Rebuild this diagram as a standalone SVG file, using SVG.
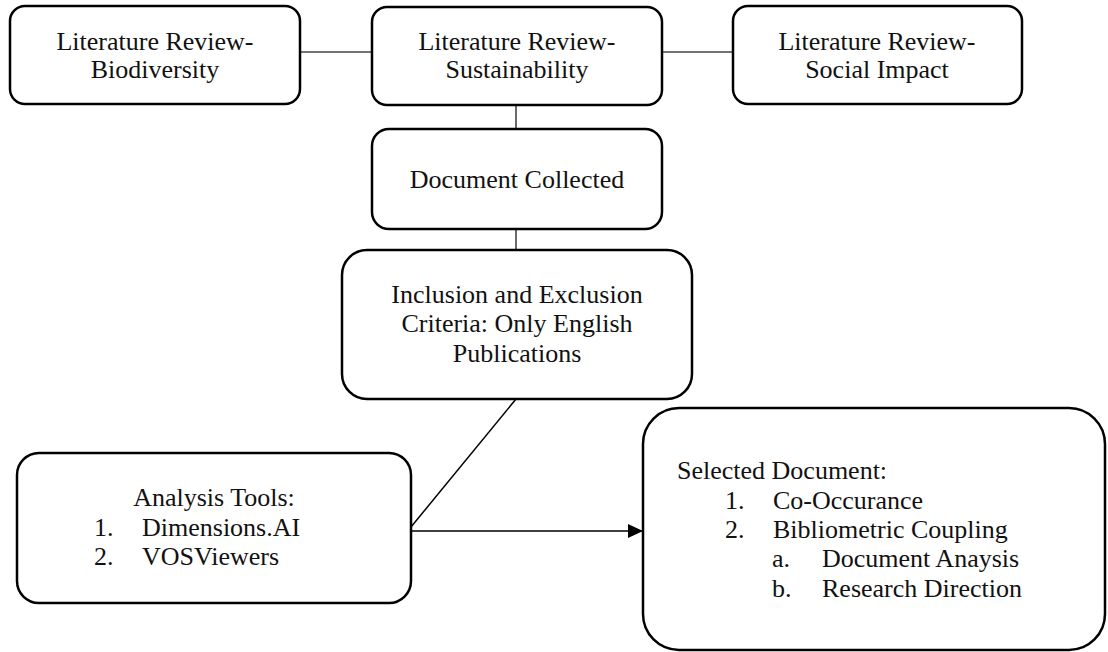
<svg xmlns="http://www.w3.org/2000/svg" width="1108" height="652" viewBox="0 0 1108 652">
  <style>
    .box { fill: #ffffff; stroke: #000000; stroke-width: 2.5; }
    .link { fill: none; stroke: #444444; stroke-width: 1.6; }
    .flow { fill: none; stroke: #000000; stroke-width: 1.5; }
    text { font-family: "Liberation Serif", "Times New Roman", serif; font-size: 26px; fill: #111111; }
    .c { text-anchor: middle; }
  </style>
  <defs>
    <marker id="arrow" viewBox="0 0 15 14" refX="15" refY="7" markerWidth="15" markerHeight="14" markerUnits="userSpaceOnUse" orient="auto">
      <path d="M0,0 L15,7 L0,14 Z" fill="#000000"/>
    </marker>
  </defs>

  <!-- connectors -->
  <g id="connectors">
    <line class="link" x1="300" y1="52" x2="372" y2="52"/>
    <line class="link" x1="662" y1="52" x2="733" y2="52"/>
    <line class="link" x1="516" y1="104" x2="516" y2="129"/>
    <line class="link" x1="516" y1="229" x2="516" y2="250"/>
    <line class="flow" x1="516" y1="399" x2="411" y2="527"/>
    <line class="flow" x1="411" y1="531" x2="643" y2="531" marker-end="url(#arrow)"/>
  </g>

  <g id="lit-biodiversity">
    <rect class="box" x="10" y="6" width="290" height="98" rx="15"/>
    <text class="c" x="155" y="50">Literature Review-</text>
    <text class="c" x="155" y="78">Biodiversity</text>
  </g>

  <g id="lit-sustainability">
    <rect class="box" x="372" y="7" width="290" height="98" rx="15"/>
    <text class="c" x="517" y="50">Literature Review-</text>
    <text class="c" x="517" y="78">Sustainability</text>
  </g>

  <g id="lit-social">
    <rect class="box" x="733" y="6" width="289" height="98" rx="15"/>
    <text class="c" x="877" y="50">Literature Review-</text>
    <text class="c" x="877" y="78">Social Impact</text>
  </g>

  <g id="document-collected">
    <rect class="box" x="372" y="129" width="290" height="100" rx="17"/>
    <text class="c" x="517" y="188">Document Collected</text>
  </g>

  <g id="criteria">
    <rect class="box" x="342" y="250" width="350" height="149" rx="25"/>
    <text class="c" x="517" y="303">Inclusion and Exclusion</text>
    <text class="c" x="517" y="332">Criteria: Only English</text>
    <text class="c" x="517" y="362">Publications</text>
  </g>

  <g id="analysis-tools">
    <rect class="box" x="17" y="453" width="394" height="150" rx="22"/>
    <text class="c" x="214" y="506">Analysis Tools:</text>
    <text x="94" y="536">1.</text>
    <text x="142" y="536">Dimensions.AI</text>
    <text x="94" y="565">2.</text>
    <text x="142" y="565">VOSViewers</text>
  </g>

  <g id="selected-document">
    <rect class="box" x="643" y="408" width="462" height="242" rx="36"/>
    <text x="677" y="479">Selected Document:</text>
    <text x="725" y="509">1.</text>
    <text x="773" y="509">Co-Occurance</text>
    <text x="725" y="538">2.</text>
    <text x="773" y="538">Bibliometric Coupling</text>
    <text x="772" y="567">a.</text>
    <text x="822" y="567">Document Anaysis</text>
    <text x="772" y="597">b.</text>
    <text x="822" y="597">Research Direction</text>
  </g>
</svg>
